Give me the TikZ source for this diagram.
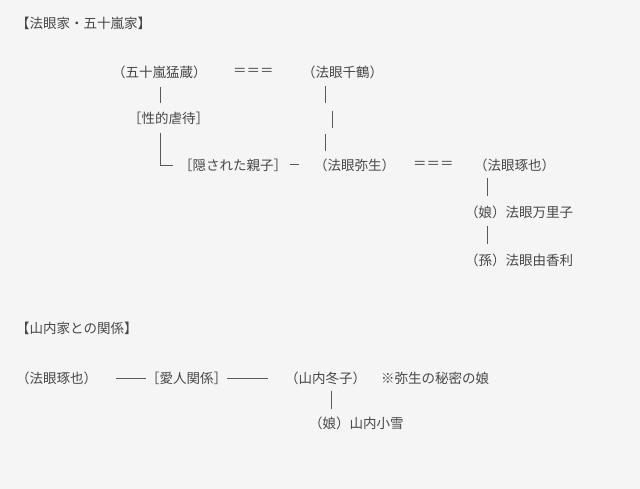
\documentclass[tikz,border=0pt]{standalone}
\usepackage{fontspec}
\setmainfont{Noto Sans CJK JP}
\begin{document}
\begin{tikzpicture}[x=1pt,y=-1pt,
  t/.style={anchor=west,inner sep=0pt,text=black!72,font=\fontsize{13.5}{14}\selectfont},
  ln/.style={draw=black!65,line width=1pt}]
\fill[blue!3!gray!8] (0,0) rectangle (640,489);
\useasboundingbox (0,0) rectangle (640,489);
\node[t] (h1) at (16,23) {【法眼家・五十嵐家】};
\node[t] (ig) at (112,72) {（五十嵐猛蔵）};
\node[t] (eq1) at (233,72) {＝＝＝};
\node[t] (ch) at (302,72) {（法眼千鶴）};
\node[t] (ab) at (128,118) {［性的虐待］};
\node[t] (hk) at (179,165) {［隠された親子］};
\node[t] (ya) at (314,165) {（法眼弥生）};
\node[t] (eq2) at (413,165) {＝＝＝};
\node[t] (ta) at (474,165) {（法眼琢也）};
\node[t] (ma) at (465,212) {（娘）法眼万里子};
\node[t] (yu) at (465,260) {（孫）法眼由香利};
\draw[ln] (160,87) -- (160,103);
\draw[ln] (160,133) -- (160,150);
\draw[ln] (160,150) -- (160,166) -- (173,166);
\draw[ln] (hk.east) ++(3,0) -- ++(9,0);
\draw[ln] (325,86) -- (325,103);
\draw[ln] (332,111) -- (332,128);
\draw[ln] (325,134) -- (325,151);
\draw[ln] (487,178) -- (487,196);
\draw[ln] (487,226) -- (487,244);
\node[t] (h2) at (16,328) {【山内家との関係】};
\node[t] (ta2) at (16,378) {（法眼琢也）};
\node[t] (ai) at (146,378) {［愛人関係］};
\node[t] (fu) at (285,378) {（山内冬子）};
\node[t] (no) at (381,378) {※弥生の秘密の娘};
\node[t] (ko) at (309,423) {（娘）山内小雪};
\draw[ln] (116,378) -- (ai.west);
\draw[ln] (ai.east) -- (268,378);
\draw[ln] (331,391) -- (331,409);
\end{tikzpicture}
\end{document}
